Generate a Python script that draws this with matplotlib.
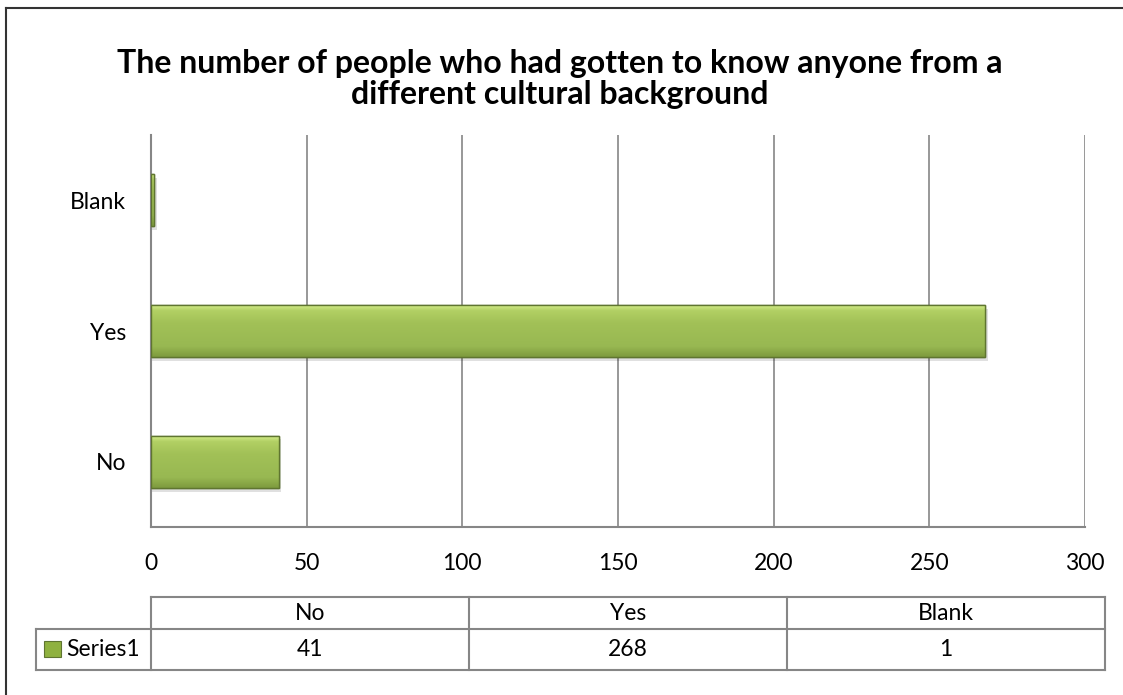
import matplotlib
matplotlib.use("Agg")
import matplotlib.pyplot as plt
import numpy as np
from matplotlib.patches import Rectangle
from matplotlib.colors import LinearSegmentedColormap

categories = ["No", "Yes", "Blank"]
values = [41, 268, 1]
xticks = [0, 50, 100, 150, 200, 250, 300]
series_name = "Series1"
title = "The number of people who had gotten to know anyone from a\ndifferent cultural background"

W, H = 1123, 695
fig = plt.figure(figsize=(W / 100, H / 100), dpi=100)
plt.rcParams['font.family'] = ['Lato', 'DejaVu Sans']

def fx(px):
    return px / W

def fy(py):
    return 1 - py / H

# outer border (only top and left visible within the picture)
fig.add_artist(plt.Line2D([fx(6), fx(6)], [fy(8), 0], transform=fig.transFigure, color='#333333', lw=1.5))
fig.add_artist(plt.Line2D([fx(6), 1], [fy(8), fy(8)], transform=fig.transFigure, color='#333333', lw=1.5))

L, R, T, B = 151, 1085, 135, 527
ax = fig.add_axes([fx(L), fy(B), fx(R) - fx(L), fy(T) - fy(B)])
ax.set_xlim(0, 300)
ax.set_ylim(-0.5, 2.5)
ax.set_xticks(xticks)
ax.set_xticklabels([str(t) for t in xticks], fontsize=16.5)
ax.set_yticks(range(len(categories)))
ax.set_yticklabels(categories, fontsize=16.5)
ax.tick_params(length=0)
ax.tick_params(axis='x', pad=19)
ax.tick_params(axis='y', pad=18)
for s in ['top', 'right']:
    ax.spines[s].set_visible(False)
for s in ['left', 'bottom']:
    ax.spines[s].set_color('#868686')
    ax.spines[s].set_linewidth(1.5)
ax.grid(axis='x', color='#868686', lw=1.2)
ax.set_axisbelow(True)

cmap = LinearSegmentedColormap.from_list('g', [(0, '#d8f08e'), (0.12, '#b2d064'), (0.35, '#a2c157'),
                                               (0.8, '#98b852'), (1, '#7e9b3e')])
grad = np.linspace(0, 1, 100).reshape(-1, 1)
bh = 0.4
bars = ax.barh(range(len(categories)), values, height=bh, color='#9bbb59',
               edgecolor='#5f7530', lw=1.0, zorder=3)
for i, (b, v) in enumerate(zip(bars, values)):
    ax.add_patch(Rectangle((0, i - bh / 2 - 0.03), v + 0.8, bh, color='#000000', alpha=0.12, zorder=2, lw=0))
    im = ax.imshow(grad, cmap=cmap, aspect='auto', extent=(0, v, i - bh / 2, i + bh / 2),
                   origin='upper', zorder=3.5)
    im.set_clip_path(b)
    ax.add_patch(Rectangle((0, i - bh / 2), v, bh, fill=False, ec='#5f7530', lw=1.0, zorder=4))
ax.set_xlim(0, 300)
ax.set_ylim(-0.5, 2.5)

fig.text(fx(560), fy(79), title, ha='center', va='center', fontsize=23,
         fontweight='bold', linespacing=1.05)

# data table
tc = '#868686'
row1_t, row1_b, row2_b = 597, 629, 670
TL, TR = 151, 1105
col_edges = [TL + (TR - TL) * k / 3 for k in range(4)]
def line(x0, y0, x1, y1):
    fig.add_artist(plt.Line2D([fx(x0), fx(x1)], [fy(y0), fy(y1)], transform=fig.transFigure,
                              color=tc, lw=1.5))
line(TL, row1_t, TR, row1_t)
line(36, row1_b, TR, row1_b)
line(36, row2_b, TR, row2_b)
line(36, row1_b, 36, row2_b)
for xe in col_edges:
    line(xe, row1_t, xe, row2_b)
for k, (c, v) in enumerate(zip(categories, values)):
    xc = (col_edges[k] + col_edges[k + 1]) / 2
    fig.text(fx(xc), fy(614), c, ha='center', va='center', fontsize=16.5)
    fig.text(fx(xc), fy(649), str(v), ha='center', va='center', fontsize=16.5)
# legend key
fig.add_artist(Rectangle((fx(44), fy(657)), fx(61) - fx(44), fy(641) - fy(657),
                         transform=fig.transFigure, color='#8fb13f', ec='#5f7530', lw=0.8))
fig.text(fx(66), fy(649), series_name, ha='left', va='center', fontsize=16.5)

fig.savefig('out.png', dpi=100)
